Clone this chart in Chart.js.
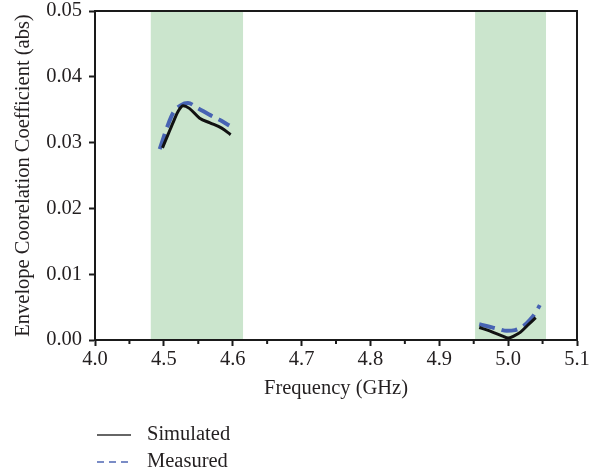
<!DOCTYPE html>
<html>
<head>
<meta charset="utf-8">
<script src="https://cdn.jsdelivr.net/npm/chart.js@4"></script>
<style>
  html, body { margin: 0; padding: 0; background: #fff; }
  #wrap { width: 603px; height: 475px; }
</style>
</head>
<body>
<div id="wrap"><canvas id="myChart" width="603" height="475"></canvas></div>
<script>
// axis labels (the first tick is printed "4.0" in the original figure)
const xTickLabels = ["4.0", "4.5", "4.6", "4.7", "4.8", "4.9", "5.0", "5.1"];
const bandStart = [4.481, 4.952];
const bandEnd = [4.615, 5.055];

// simulated curve, two pieces
const simFreq1 = [4.498, 4.506, 4.514, 4.521, 4.528, 4.537, 4.552, 4.567, 4.584, 4.597];
const simVal1 = [0.0292, 0.0312, 0.0332, 0.0348, 0.0356, 0.0352, 0.0337, 0.0330, 0.0322, 0.0312];
const simFreq2 = [4.958, 4.970, 4.982, 4.992, 5.000, 5.008, 5.018, 5.028, 5.040];
const simVal2 = [0.0019, 0.0015, 0.0010, 0.0006, 0.0003, 0.0006, 0.0012, 0.0022, 0.0034];

// measured curve, two pieces
const measFreq1 = [4.494, 4.506, 4.514, 4.525, 4.535, 4.550, 4.565, 4.580, 4.595];
const measVal1 = [0.0290, 0.0327, 0.0346, 0.0357, 0.0360, 0.0352, 0.0343, 0.0335, 0.0326];
const measFreq2 = [4.958, 4.970, 4.985, 4.998, 5.010, 5.022, 5.032, 5.040, 5.046];
const measVal2 = [0.0024, 0.0021, 0.0017, 0.0014, 0.0015, 0.0021, 0.0031, 0.0042, 0.0053];

const FONT = "'Liberation Serif', 'DejaVu Serif', serif";
const FS = 20.5;
const TEXT = "#231f20";
const BLUE = "#4763b3";
const GREEN = "#cbe5cd";

function pts(fs, vs) {
    return fs.map((f, i) => ({ x: f, y: vs[i] }));
}
function joined(f1, v1, f2, v2) {
    return pts(f1, v1).concat([{ x: 4.8, y: null }], pts(f2, v2));
}

const bands = {
    id: "bands",
    beforeDatasetsDraw(chart) {
        const { ctx, chartArea: a, scales: { x } } = chart;
        ctx.save();
        ctx.fillStyle = GREEN;
        bandStart.forEach((s, i) => {
            const l = x.getPixelForValue(s);
            const r = x.getPixelForValue(bandEnd[i]);
            ctx.fillRect(l, a.top, r - l, a.bottom - a.top);
        });
        ctx.restore();
    },
};

const frame = {
    id: "frame",
    afterDatasetsDraw(chart) {
        const { ctx, chartArea: a, scales: { x } } = chart;
        ctx.save();
        ctx.strokeStyle = "#1a1a1a";
        ctx.lineWidth = 2;
        ctx.strokeRect(a.left, a.top, a.right - a.left, a.bottom - a.top);
        // minor ticks on the x axis
        ctx.beginPath();
        for (let k = 0; k < 7; k++) {
            const px = (x.getPixelForValue(4.4 + k * 0.1) + x.getPixelForValue(4.5 + k * 0.1)) / 2;
            ctx.moveTo(px, a.bottom);
            ctx.lineTo(px, a.bottom + 4);
        }
        ctx.stroke();
        ctx.restore();
    },
};

const stackLegend = {
    id: "stackLegend",
    afterDraw(chart) {
        const ctx = chart.ctx;
        ctx.save();
        ctx.font = FS + "px " + FONT;
        ctx.textBaseline = "middle";
        chart.data.datasets.forEach((ds, i) => {
            const y = 435 + i * 27;
            ctx.beginPath();
            ctx.strokeStyle = i === 0 ? "#333" : "#7a8cc6";
            ctx.lineWidth = i === 0 ? 1.5 : 2;
            ctx.setLineDash(i === 0 ? [] : [7, 5]);
            ctx.moveTo(97, y);
            ctx.lineTo(131, y);
            ctx.stroke();
            ctx.setLineDash([]);
            ctx.fillStyle = TEXT;
            ctx.fillText(ds.label, 147, y);
        });
        ctx.restore();
    },
};

new Chart(document.getElementById("myChart"), {
    type: "line",
    data: {
        datasets: [
            {
                label: "Simulated",
                data: joined(simFreq1, simVal1, simFreq2, simVal2),
                borderColor: "#111",
                borderWidth: 3,
                pointRadius: 0,
                cubicInterpolationMode: "monotone",
                spanGaps: false,
            },
            {
                label: "Measured",
                data: joined(measFreq1, measVal1, measFreq2, measVal2),
                borderColor: BLUE,
                borderWidth: 4,
                borderDash: [16, 7],
                pointRadius: 0,
                cubicInterpolationMode: "monotone",
                spanGaps: false,
            },
        ],
    },
    options: {
        responsive: false,
        animation: false,
        layout: { padding: { left: 0, top: 11, right: 26, bottom: 70 } },
        plugins: {
            legend: { display: false },
            tooltip: { enabled: false },
        },
        scales: {
            x: {
                type: "linear",
                min: 4.4,
                max: 5.1,
                afterFit: (s) => { s.height = 65; s.paddingLeft = 0; s.paddingRight = 0; },
                border: { color: "#1a1a1a", width: 2 },
                grid: { drawOnChartArea: false, tickLength: 6, tickColor: "#1a1a1a", tickWidth: 2 },
                ticks: {
                    stepSize: 0.1,
                    color: TEXT,
                    font: { family: FONT, size: FS },
                    padding: 1,
                    maxRotation: 0,
                    callback: (v, i) => xTickLabels[i],
                },
                title: {
                    display: true,
                    text: "Frequency (GHz)",
                    color: TEXT,
                    font: { family: FONT, size: FS },
                    padding: { top: 0 },
                },
            },
            y: {
                min: 0,
                max: 0.05,
                afterFit: (s) => { s.width = 95; s.paddingTop = 0; s.paddingBottom = 0; },
                border: { color: "#1a1a1a", width: 2 },
                grid: { drawOnChartArea: false, tickLength: 6, tickColor: "#1a1a1a", tickWidth: 2 },
                ticks: {
                    stepSize: 0.01,
                    color: TEXT,
                    font: { family: FONT, size: FS },
                    padding: 7,
                    callback: (v) => v.toFixed(2),
                },
                title: {
                    display: true,
                    text: "Envelope Coorelation Coefficient (abs)",
                    color: TEXT,
                    font: { family: FONT, size: FS },
                    padding: { top: 11, bottom: 0 },
                },
            },
        },
    },
    plugins: [bands, frame, stackLegend],
});
</script>
</body>
</html>
